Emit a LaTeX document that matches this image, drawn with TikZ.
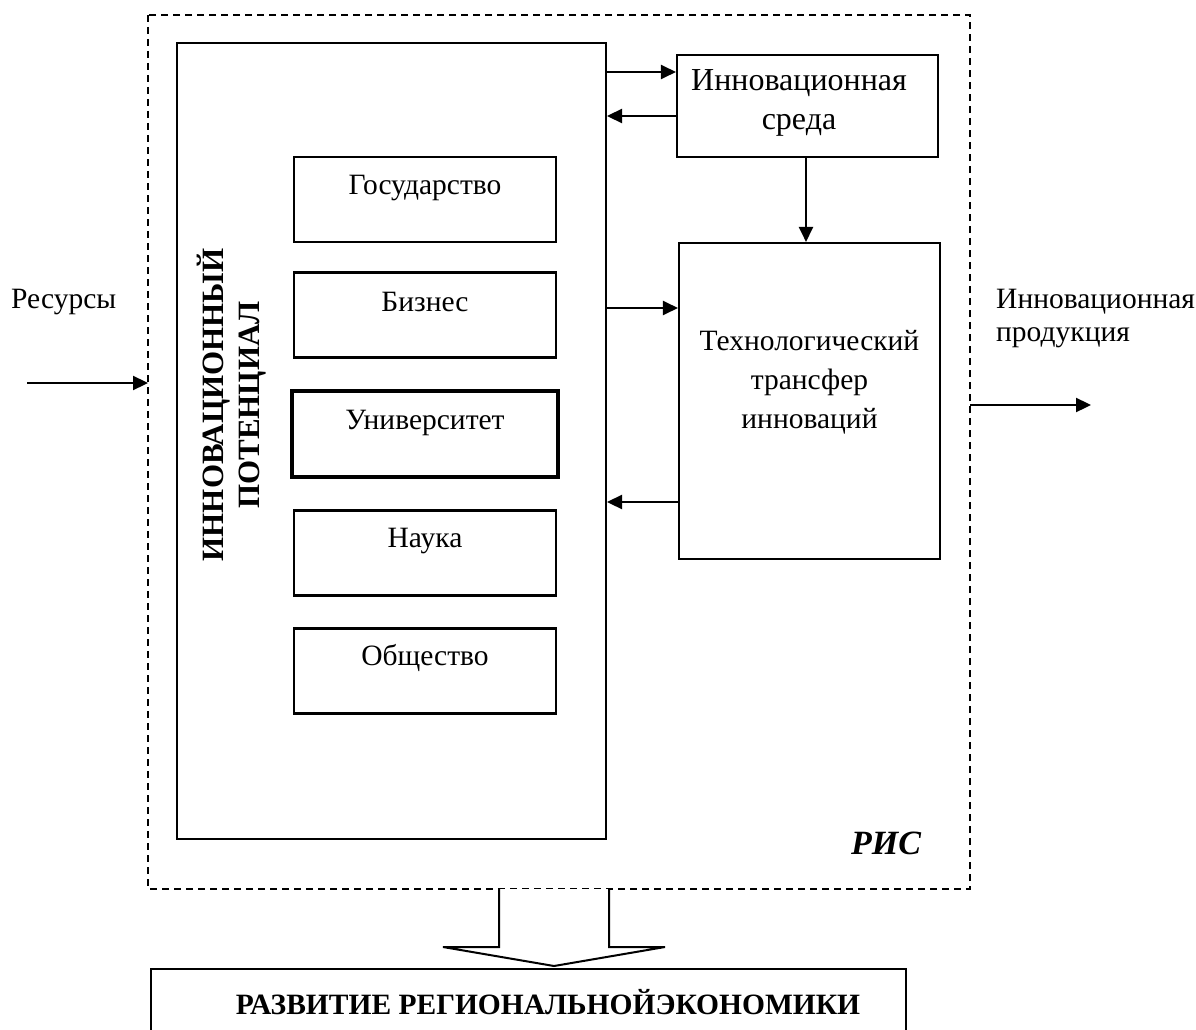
\documentclass[tikz,border=0pt]{standalone}
\usepackage{fontspec}
\setmainfont{Liberation Serif}
\usetikzlibrary{arrows.meta}
\begin{document}
\begin{tikzpicture}[x=1pt,y=-1pt,
  box/.style={draw,line width=2.1pt,minimum width=262pt,minimum height=85pt,inner sep=0pt},
  lbl/.style={font=\fontsize{29.5}{39}\selectfont,align=center,inner sep=0pt},
  link/.style={line width=2.3pt,-{Triangle[length=15pt,width=14pt]}},
]
\useasboundingbox (0,0) rectangle (1196,1030);

% region frame and the innovation potential block
\draw[line width=2pt,dash pattern=on 7pt off 5pt] (148,15) rectangle (970,889);
\node[draw,line width=2pt,minimum width=429pt,minimum height=796pt,inner sep=0pt] (pot) at (391.5,441) {};
\node[font=\bfseries\fontsize{31}{36}\selectfont,align=center,rotate=90,inner sep=0pt] (potlbl) at (232,405) {ИННОВАЦИОННЫЙ\\ПОТЕНЦИАЛ};

% actors
\node[box] (gos) at (425,199.5) {};
\node[box] (biz) at (425,315) {};
\node[box,line width=4.5pt,minimum width=266pt,minimum height=86pt] (uni) at (425,434) {};
\node[box] (nauka) at (425,553) {};
\node[box] (obsh) at (425,671) {};
\node[lbl] at ([yshift=-32]gos.north) {Государство};
\node[lbl] at ([yshift=-31]biz.north) {Бизнес};
\node[lbl] at ([yshift=-34]uni.north) {Университет};
\node[lbl] at ([yshift=-32]nauka.north) {Наука};
\node[lbl] at ([yshift=-31]obsh.north) {Общество};

% environment and transfer
\node[draw,line width=2.1pt,minimum width=261pt,minimum height=102pt,inner sep=0pt] (env) at (807.5,106) {};
\node[lbl,font=\fontsize{32}{39}\selectfont] at (799,103) {Инновационная\\среда};
\node[draw,line width=2.1pt,minimum width=261pt,minimum height=316pt,inner sep=0pt] (tt) at (809.5,401) {};
\node[lbl] at (809.5,382) {Технологический\\трансфер\\инноваций};

\draw[link] (pot.east |- 0,72) -- (env.west |- 0,72);
\draw[link] (env.west |- 0,116) -- (pot.east |- 0,116);
\draw[link] (env.south -| 806,0) -- (tt.north -| 806,0);
\draw[link] (pot.east |- 0,308) -- (tt.west |- 0,308);
\draw[link] (tt.west |- 0,502) -- (pot.east |- 0,502);

% inputs and outputs
\coordinate (resin) at (27,383);
\coordinate (rframe) at (148,383);
\draw[link] (resin) -- (rframe);
\node[lbl,anchor=west] (res) at (11,302) {Ресурсы};
\coordinate (oframe) at (970,405);
\coordinate (outend) at (1091,405);
\draw[link] (oframe) -- (outend);
\node[lbl,anchor=west,align=left,font=\fontsize{29.5}{33}\selectfont] (prod) at (996,319) {Инновационная\\продукция};

\node[font=\bfseries\itshape\fontsize{34}{40}\selectfont,inner sep=0pt] (ris) at (886,843) {РИС};

% outcome
\draw[line width=2pt,fill=white] (499,889) -- (499,947) -- (443,947) -- (554,966) -- (665,947) -- (609,947) -- (609,889);
\draw[line width=2pt] (151,1031) |- (906,969) -- (906,1031);
\node[font=\bfseries\fontsize{29.5}{30}\selectfont,inner sep=0pt] (dev) at (548,1002) {РАЗВИТИЕ РЕГИОНАЛЬНОЙЭКОНОМИКИ};
\end{tikzpicture}
\end{document}
